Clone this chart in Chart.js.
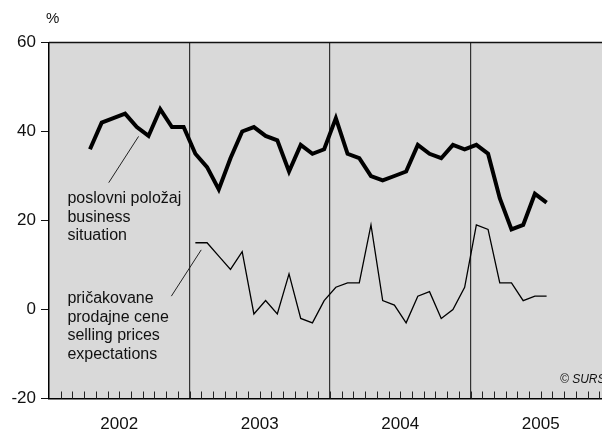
<!DOCTYPE html>
<html>
<head>
<meta charset="utf-8">
<script src="https://cdn.jsdelivr.net/npm/chart.js@4"></script>
<style>
html, body { margin: 0; padding: 0; background: #fff; overflow: hidden; }
#wrap { width: 602px; height: 432px; overflow: hidden; }
</style>
</head>
<body>
<div id="wrap"><canvas id="chart" width="627" height="432"></canvas></div>
<script>
// monthly data, first value is april 2002 / january 2003
var years = ['2002', '2003', '2004', '2005'];
var businessStart = 3;
var business = [36, 42, 43, 44, 41, 39, 45, 41, 41,
                35, 32, 27, 34, 40, 41, 39, 38, 31, 37, 35, 36,
                43, 35, 34, 30, 29, 30, 31, 37, 35, 34, 37, 36,
                37, 35, 25, 18, 19, 26, 24];
var pricesStart = 12;
var prices = [15, 15, 12, 9, 13, -1, 2, -1, 8, -2, -3, 2,
              5, 6, 6, 19, 2, 1, -3, 3, 4, -2, 0, 5,
              19, 18, 6, 6, 2, 3, 3];
var yTicks = [-20, 0, 20, 40, 60];

var FONT = '"Liberation Sans", Arial, Helvetica, sans-serif';

function toPoints(values, start) {
    return values.map(function (v, i) { return {x: start + i + 0.5, y: v}; });
}

// label blocks, [month, value] anchors
var notes = [
    {lines: ['poslovni položaj', 'business', 'situation'], x: 1.57, y: 24.9, lead: [[5.1, 28.5], [7.65, 38.9]]},
    {lines: ['pričakovane', 'prodajne cene', 'selling prices', 'expectations'], x: 1.57, y: 2.4, lead: [[10.45, 3.0], [13.0, 13.4]]}
];

var frame = {
    id: 'frame',
    beforeDraw: function (chart) {
        var a = chart.chartArea, c = chart.ctx;
        c.save();
        c.fillStyle = '#d9d9d9';
        c.fillRect(a.left, a.top, a.right - a.left, a.bottom - a.top);
        c.restore();
    },
    afterDraw: function (chart) {
        var a = chart.chartArea, c = chart.ctx;
        var xs = chart.scales.x, ys = chart.scales.y;
        c.save();
        // top border
        c.strokeStyle = '#111';
        c.lineWidth = 1.5;
        c.beginPath();
        c.moveTo(a.left, a.top);
        c.lineTo(a.right, a.top);
        c.stroke();
        // month ticks pointing up
        c.lineWidth = 1;
        c.strokeStyle = '#222';
        for (var m = 1; m < 48; m++) {
            var px = Math.round(xs.getPixelForValue(m)) + 0.5;
            c.beginPath();
            c.moveTo(px, a.bottom);
            c.lineTo(px, a.bottom - 7);
            c.stroke();
        }
        // labels + leader lines
        c.fillStyle = '#111';
        c.font = '16px ' + FONT;
        c.textBaseline = 'middle';
        c.textAlign = 'left';
        notes.forEach(function (n) {
            var x0 = xs.getPixelForValue(n.x), y0 = ys.getPixelForValue(n.y);
            n.lines.forEach(function (t, i) { c.fillText(t, x0, y0 + i * 18.6); });
            c.lineWidth = 1;
            c.beginPath();
            c.moveTo(xs.getPixelForValue(n.lead[0][0]), ys.getPixelForValue(n.lead[0][1]));
            c.lineTo(xs.getPixelForValue(n.lead[1][0]), ys.getPixelForValue(n.lead[1][1]));
            c.stroke();
        });
        c.font = '15px ' + FONT;
        c.fillText('%', 46, 19);
        c.font = 'italic 12px ' + FONT;
        c.fillText('© SURS', 560, 380);
        c.restore();
    }
};

var ctx = document.getElementById('chart');
new Chart(ctx, {
    type: 'line',
    data: {
        datasets: [{
            data: toPoints(business, businessStart),
            borderColor: '#000',
            borderWidth: 4,
            borderJoinStyle: 'miter',
            pointRadius: 0,
            tension: 0
        }, {
            data: toPoints(prices, pricesStart),
            borderColor: '#000',
            borderWidth: 1.3,
            pointRadius: 0,
            tension: 0
        }]
    },
    options: {
        responsive: false,
        animation: false,
        devicePixelRatio: 1,
        layout: {padding: {top: 42.5, left: 0, right: 0, bottom: 0}},
        plugins: {legend: {display: false}, tooltip: {enabled: false}},
        scales: {
            x: {
                type: 'linear', min: 0, max: 48,
                afterBuildTicks: function (s) {
                    var t = [];
                    for (var i = 0; i <= 48; i++) t.push({value: i});
                    s.ticks = t;
                },
                afterFit: function (s) { s.height = 33.5; },
                ticks: {
                    autoSkip: false, maxRotation: 0, padding: 16,
                    color: '#111', font: {family: FONT, size: 17},
                    callback: function (v) { return v % 12 === 6 ? years[(v - 6) / 12] : ''; }
                },
                grid: {
                    drawTicks: false,
                    lineWidth: 1.2,
                    color: function (c) {
                        var v = c.tick ? c.tick.value : 0;
                        return (v % 12 === 0 && v > 0 && v < 48) ? '#333' : 'rgba(0,0,0,0)';
                    }
                },
                border: {display: true, color: '#000', width: 1.5}
            },
            y: {
                min: -20, max: 60,
                afterBuildTicks: function (s) { s.ticks = yTicks.map(function (v) { return {value: v}; }); },
                afterFit: function (s) { s.width = 49; },
                ticks: {padding: 5, color: '#111', font: {family: FONT, size: 17}},
                grid: {drawOnChartArea: false, drawTicks: true, tickLength: 8, color: '#111', lineWidth: 1},
                border: {display: true, color: '#000', width: 1.5}
            }
        }
    },
    plugins: [frame]
});
</script>
</body>
</html>
